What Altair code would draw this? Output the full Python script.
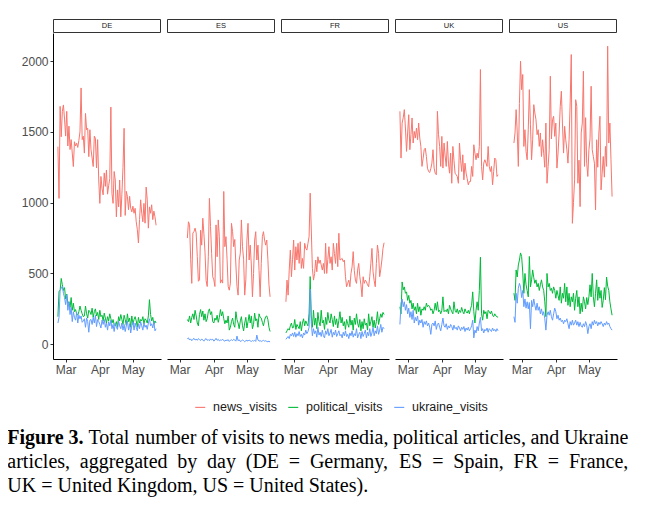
import altair as alt
import pandas as pd

# ---------------------------------------------------------------- data
COUNTRIES = ["DE", "ES", "FR", "UK", "US"]
SERIES = ["news_visits", "political_visits", "ukraine_visits"]
COLORS = ["#F8766D", "#00BA38", "#619CFF"]
FIRST_DAY = "2022-02-22"
N_DAYS = 90
ES_FIRST_INDEX = 14
TICK_MONTHS = [3, 4, 5]
Y_TICKS = [0, 500, 1000, 1500, 2000]

DE_news = [1395, 1030, 1680, 1465, 1645, 1690, 1590, 1470, 1645, 1400,
           1540, 1375, 1445, 1350, 1255, 1430, 1400, 1420, 1390, 1440,
           1500, 1810, 1445, 1470, 1350, 1630, 1515, 1525, 1325, 1515,
           1375, 1315, 1255, 1470, 1455, 1245, 1445, 1160, 995, 1185,
           1100, 1055, 1210, 1115, 1230, 1060, 1120, 1170, 1675, 1065,
           995, 1220, 1160, 900, 1090, 970, 1160, 900, 1060, 1250,
           1525, 910, 1080, 1045, 950, 1045, 960, 935, 975, 925,
           960, 865, 810, 715, 880, 1020, 925, 865, 995, 855,
           1110, 1020, 820, 970, 925, 985, 880, 940, 900, 840]
DE_political = [195, 375, 380, 465, 420, 380, 400, 320, 355, 290,
                300, 260, 330, 240, 290, 230, 245, 215, 205, 230,
                270, 240, 215, 195, 200, 270, 215, 185, 240, 230,
                210, 255, 190, 230, 250, 200, 225, 175, 240, 195,
                205, 165, 220, 185, 150, 195, 165, 215, 180, 150,
                175, 140, 130, 160, 120, 195, 165, 210, 175, 140,
                205, 175, 135, 215, 160, 185, 120, 200, 140, 175,
                195, 165, 120, 190, 150, 175, 165, 195, 145, 180,
                170, 150, 200, 315, 210, 165, 190, 140, 165, 150]
DE_ukraine = [150, 190, 380, 395, 410, 360, 330, 280, 350, 240,
              300, 210, 260, 160, 230, 190, 170, 225, 150, 205,
              180, 200, 155, 165, 180, 120, 185, 160, 85, 170,
              175, 140, 190, 150, 205, 125, 175, 160, 140, 115,
              170, 140, 175, 120, 150, 100, 160, 130, 170, 110,
              140, 90, 150, 120, 105, 165, 130, 110, 150, 100,
              140, 90, 130, 165, 100, 145, 80, 130, 160, 100,
              150, 120, 95, 145, 110, 160, 130, 100, 150, 120,
              135, 105, 150, 180, 130, 145, 115, 160, 95, 110]

ES_news = [750, 865, 845, 600, 430, 785, 795, 820, 785, 620,
           445, 455, 805, 700, 890, 780, 650, 450, 408, 618,
           1030, 830, 640, 477, 455, 408, 843, 618, 878, 760,
           432, 455, 432, 1079, 689, 760, 600, 408, 382, 432,
           854, 795, 689, 740, 560, 408, 347, 595, 642, 878,
           689, 600, 347, 455, 736, 854, 595, 700, 560, 335,
           500, 736, 795, 595, 700, 520, 335, 571, 760, 795,
           736, 700, 736, 600, 420, 335]
ES_political = [175, 160, 200, 150, 190, 215, 175, 240, 200, 150,
                130, 210, 245, 195, 235, 170, 215, 160, 180, 230,
                250, 210, 230, 160, 150, 185, 170, 205, 155, 190,
                245, 200, 230, 180, 145, 170, 150, 200, 100, 120,
                160, 185, 140, 120, 230, 175, 150, 110, 165, 195,
                130, 95, 150, 190, 115, 160, 210, 150, 200, 110,
                140, 220, 165, 180, 120, 215, 190, 185, 155, 130,
                170, 195, 200, 175, 120, 90]
ES_ukraine = [40, 45, 30, 38, 25, 35, 42, 30, 36, 28,
              40, 33, 27, 38, 30, 22, 35, 40, 28, 33,
              25, 38, 30, 36, 22, 30, 42, 28, 35, 24,
              30, 28, 36, 25, 22, 30, 26, 33, 20, 28,
              32, 26, 35, 30, 22, 58, 25, 32, 20, 24,
              30, 26, 18, 25, 28, 22, 30, 24, 20, 26,
              22, 28, 20, 65, 30, 22, 26, 20, 24, 28,
              22, 25, 20, 18, 22, 15]

FR_news = [300, 453, 347, 524, 665, 477, 600, 736, 524, 689,
           595, 713, 571, 724, 536, 606, 536, 713, 677, 665,
           713, 760, 1067, 807, 536, 453, 500, 595, 512, 618,
           571, 595, 560, 524, 571, 500, 713, 500, 600, 689,
           571, 618, 524, 713, 640, 571, 713, 548, 784, 595,
           600, 606, 583, 595, 477, 406, 430, 453, 406, 500,
           548, 654, 520, 453, 430, 524, 571, 477, 420, 335,
           477, 430, 453, 441, 420, 406, 477, 571, 677, 512,
           450, 406, 571, 701, 642, 477, 530, 595, 677, 717]
FR_political = [80, 95, 110, 100, 130, 150, 115, 120, 175, 105,
                140, 125, 110, 160, 95, 150, 180, 130, 165, 145,
                130, 220, 478, 200, 120, 240, 135, 185, 110, 225,
                160, 130, 240, 150, 170, 105, 190, 140, 225, 170,
                150, 215, 175, 125, 200, 140, 180, 115, 170, 230,
                150, 190, 130, 160, 105, 175, 145, 120, 200, 135,
                170, 100, 185, 140, 215, 150, 120, 175, 95, 160,
                110, 180, 135, 150, 100, 215, 130, 160, 195, 120,
                170, 115, 160, 230, 140, 180, 215, 190, 225, 210]
FR_ukraine = [35, 45, 55, 40, 70, 60, 80, 55, 85, 50,
              75, 60, 90, 55, 70, 45, 80, 65, 100, 75,
              90, 120, 390, 150, 60, 110, 75, 95, 50, 120,
              65, 85, 55, 100, 60, 45, 95, 70, 110, 60,
              80, 105, 50, 85, 65, 100, 55, 75, 95, 60,
              70, 45, 85, 60, 95, 55, 70, 40, 80, 60,
              95, 50, 75, 60, 110, 45, 70, 85, 40, 90,
              55, 75, 100, 45, 85, 60, 110, 55, 80, 120,
              60, 95, 75, 130, 70, 100, 140, 85, 120, 110]

UK_news = [1645, 1315, 1562, 1600, 1657, 1527, 1362, 1492, 1621, 1374,
           1480, 1598, 1421, 1503, 1456, 1527, 1444, 1562, 1456, 1397,
           1256, 1310, 1374, 1385, 1326, 1244, 1220, 1213, 1240, 1279,
           1374, 1244, 1208, 1197, 1645, 1480, 1397, 1256, 1468, 1244,
           1421, 1330, 1256, 1432, 1279, 1208, 1350, 1137, 1397, 1300,
           1208, 1197, 1185, 1137, 1421, 1300, 1220, 1338, 1161, 1279,
           1208, 1170, 1126, 1149, 1149, 1256, 1185, 1409, 1350, 1303,
           1350, 1315, 1397, 1940, 1256, 1161, 1279, 1303, 1280, 1256,
           1397, 1256, 1220, 1256, 1126, 1220, 1315, 1303, 1185, 1197]
UK_political = [265, 215, 440, 385, 405, 360, 370, 310, 345, 290,
                310, 250, 290, 240, 265, 215, 290, 230, 265, 205,
                250, 240, 265, 240, 290, 265, 275, 265, 240, 250,
                215, 240, 290, 240, 300, 230, 240, 215, 240, 335,
                230, 240, 230, 250, 215, 275, 250, 230, 215, 300,
                240, 225, 250, 215, 240, 225, 260, 230, 215, 250,
                230, 220, 240, 215, 250, 275, 370, 230, 150, 240,
                300, 240, 380, 615, 215, 170, 240, 215, 230, 180,
                240, 230, 215, 235, 205, 195, 215, 200, 195, 190]
UK_ukraine = [140, 290, 320, 265, 300, 240, 280, 215, 255, 190,
              230, 175, 240, 150, 190, 165, 200, 135, 170, 150,
              175, 120, 160, 140, 165, 130, 150, 120, 70, 140,
              150, 130, 165, 105, 140, 150, 120, 95, 140, 185,
              130, 120, 145, 105, 130, 115, 140, 125, 100, 135,
              110, 120, 100, 130, 115, 95, 120, 105, 125, 90,
              115, 100, 120, 95, 110, 130, 170, 45, 100, 80,
              125, 95, 150, 190, 95, 110, 80, 105, 95, 115,
              85, 110, 100, 90, 115, 95, 105, 90, 110, 95]

US_news = [1421, 1492, 1657, 1500, 1256, 1700, 1999, 1798, 1905, 1397,
           1515, 1362, 1303, 1515, 1798, 1550, 1303, 1444, 1692, 1633,
           1586, 1480, 1515, 1397, 1492, 1326, 1444, 1350, 1250, 1562,
           1137, 1256, 1374, 1893, 1450, 1586, 1610, 1468, 1562, 1244,
           1350, 1492, 1680, 1787, 1562, 1350, 1539, 1444, 1374, 1279,
           1444, 1704, 2046, 854, 1000, 1161, 1727, 1680, 1137, 1300,
           972, 1492, 1562, 1928, 1256, 1600, 1279, 1185, 1374, 1450,
           1822, 1374, 1326, 1279, 949, 1444, 1250, 1492, 1610, 1090,
           1208, 1326, 1180, 1397, 1256, 2105, 1421, 1562, 1303, 1043]
US_political = [360, 310, 525, 475, 560, 595, 645, 620, 510, 360,
                500, 420, 380, 335, 620, 405, 455, 525, 470, 430,
                455, 405, 430, 380, 420, 455, 405, 380, 300, 195,
                500, 405, 430, 380, 395, 360, 405, 380, 325, 380,
                345, 310, 405, 290, 360, 325, 430, 300, 405, 275,
                360, 265, 335, 300, 360, 240, 325, 380, 265, 335,
                215, 290, 230, 335, 300, 250, 330, 280, 335, 420,
                335, 500, 335, 265, 360, 455, 310, 405, 325, 380,
                260, 310, 400, 315, 475, 410, 380, 300, 250, 205]
US_ukraine = [195, 155, 360, 290, 395, 430, 405, 330, 380, 265,
              320, 255, 300, 250, 295, 110, 310, 265, 320, 275,
              240, 290, 240, 265, 215, 250, 205, 230, 180, 100,
              205, 230, 205, 240, 195, 170, 215, 255, 230, 180,
              205, 170, 185, 160, 170, 145, 170, 160, 180, 145,
              110, 160, 135, 170, 135, 150, 170, 135, 160, 125,
              155, 130, 120, 145, 125, 160, 135, 75, 125, 145,
              110, 160, 135, 170, 145, 160, 130, 155, 140, 160,
              145, 125, 150, 135, 160, 140, 150, 125, 110, 100]

CAPTION_BOLD = "Figure 3."
CAPTION_LINE1 = "Total number of visits to news media, political articles, and Ukraine"
CAPTION_LINE2 = "articles, aggregated by day (DE = Germany, ES = Spain, FR = France,"
CAPTION_LINE3 = "UK = United Kingdom, US = United States)."

# ---------------------------------------------------------------- table
SOURCE = {
    "DE": (DE_news, DE_political, DE_ukraine, 0),
    "ES": (ES_news, ES_political, ES_ukraine, ES_FIRST_INDEX),
    "FR": (FR_news, FR_political, FR_ukraine, 0),
    "UK": (UK_news, UK_political, UK_ukraine, 0),
    "US": (US_news, US_political, US_ukraine, 0),
}
dates = pd.date_range(FIRST_DAY, periods=N_DAYS, freq="D")
rows = []
for country in COUNTRIES:
    news, pol, ukr, first = SOURCE[country]
    for series, vals in zip(SERIES, (news, pol, ukr)):
        for k, v in enumerate(vals):
            i = first + k
            rows.append({"country": country, "series": series,
                         "date": dates[i].strftime("%Y-%m-%dT00:00:00"),
                         "day": i, "value": v})
df = pd.DataFrame(rows)

# ---------------------------------------------------------------- panels
PANEL_W, PANEL_H = 108, 326
AXIS_STYLE = dict(domainColor="#000000", domainWidth=1, tickColor="#333333",
                  tickWidth=1, tickSize=3, labelFont="Liberation Sans",
                  labelFontSize=12, labelColor="#4D4D4D", labelPadding=2,
                  grid=False)

x_enc = alt.X(
    "date:T", title=None,
    scale=alt.Scale(domain=[alt.DateTime(year=2022, month=2, date=17, hours=13),
                            alt.DateTime(year=2022, month=5, date=26, hours=11)]),
    axis=alt.Axis(values=[alt.DateTime(year=2022, month=m, date=1) for m in TICK_MONTHS],
                  format="%b", **AXIS_STYLE),
)
y_enc = alt.Y(
    "value:Q", title=None,
    scale=alt.Scale(domain=[-104, 2198], nice=False, zero=False),
    axis=alt.Axis(values=Y_TICKS, format="d", **AXIS_STYLE),
)
color_enc = alt.Color(
    "series:N",
    scale=alt.Scale(domain=SERIES, range=COLORS),
    legend=alt.Legend(title=None, orient="none", legendX=141, legendY=368,
                      direction="horizontal", symbolType="stroke", symbolSize=100,
                      symbolStrokeWidth=1.1, labelFont="Liberation Sans",
                      labelFontSize=12.5, labelColor="#1A1A1A", labelOffset=6.5,
                      columnPadding=9, padding=0),
)

lines = alt.Chart().mark_line(strokeWidth=1).encode(x=x_enc, y=y_enc, color=color_enc)

ONE_ROW = f"datum.day == {N_DAYS - 1} && datum.series == 'news_visits'"
one_row = alt.Chart().transform_filter(ONE_ROW)
strip_rect = one_row.mark_rect(fill="white", stroke="#333333", strokeWidth=1).encode(
    x=alt.value(0.5), x2=alt.value(PANEL_W - 0.5), y=alt.value(-13.5), y2=alt.value(-0.5))
strip_text = one_row.mark_text(font="Liberation Sans", fontSize=7.5, color="#1A1A1A",
                               baseline="middle", align="center").encode(
    x=alt.value(PANEL_W / 2), y=alt.value(-7), text="country:N")

# ---------------------------------------------------------------- caption
TIMES = {" ": 250, ",": 250, ".": 250, "(": 333, ")": 333, "=": 564, "3": 500,
         "a": 444, "b": 500, "c": 444, "d": 500, "e": 444, "f": 333, "g": 500,
         "h": 500, "i": 278, "k": 500, "l": 278, "m": 778, "n": 500, "o": 500,
         "p": 500, "r": 333, "s": 389, "t": 278, "u": 500, "v": 500, "w": 722,
         "y": 500, "D": 722, "E": 611, "F": 556, "G": 722, "K": 722, "R": 667,
         "S": 556, "T": 611, "U": 722}
TIMES_BOLD = {" ": 250, ".": 250, "3": 500, "F": 611, "i": 278, "g": 500,
              "u": 556, "r": 444, "e": 444}
CAP_SIZE = 20
CAP_WIDTH = 621
CAP_X0 = -45.7                       # relative to the DE panel origin
CAP_Y = [410.5, 434.8, 459.0]        # baselines, relative to the panel top


def text_width(s, table):
    return sum(table[ch] for ch in s) * CAP_SIZE / 1000


def justify(tokens, total):
    widths = [text_width(t, TIMES_BOLD if b else TIMES) for t, b in tokens]
    gap = (total - sum(widths)) / (len(tokens) - 1)
    xs, x = [], CAP_X0
    for w in widths:
        xs.append(x)
        x += w + gap
    return xs


de_row = alt.Chart().transform_filter(ONE_ROW + " && datum.country == 'DE'")


def cap_mark(txt, x, y, bold=False):
    return de_row.mark_text(
        text=txt, font="Liberation Serif", fontSize=CAP_SIZE,
        fontWeight="bold" if bold else "normal", align="left",
        baseline="alphabetic", color="#000000").encode(x=alt.value(x), y=alt.value(y))


cap_layers = []
tok1 = [(CAPTION_BOLD, True)] + [(w, False) for w in CAPTION_LINE1.split()]
for (t, b), x in zip(tok1, justify(tok1, CAP_WIDTH)):
    cap_layers.append(cap_mark(t, x, CAP_Y[0], b))
tok2 = [(w, False) for w in CAPTION_LINE2.split()]
for (t, b), x in zip(tok2, justify(tok2, CAP_WIDTH)):
    cap_layers.append(cap_mark(t, x, CAP_Y[1], b))
cap_layers.append(cap_mark(CAPTION_LINE3, CAP_X0, CAP_Y[2]))

panel = alt.layer(lines, strip_rect, strip_text, *cap_layers, data=df).properties(
    width=PANEL_W, height=PANEL_H)

chart = panel.facet(
    column=alt.Column("country:N", sort=COUNTRIES, title=None, header=None),
    spacing=6, bounds="flush",
).properties(
    autosize=alt.AutoSizeParams(type="none"),
    padding={"left": 45, "top": 25, "right": 585, "bottom": 464},
).configure_view(stroke=None)

chart.save("out.html", embed_options={"renderer": "svg", "actions": False})
